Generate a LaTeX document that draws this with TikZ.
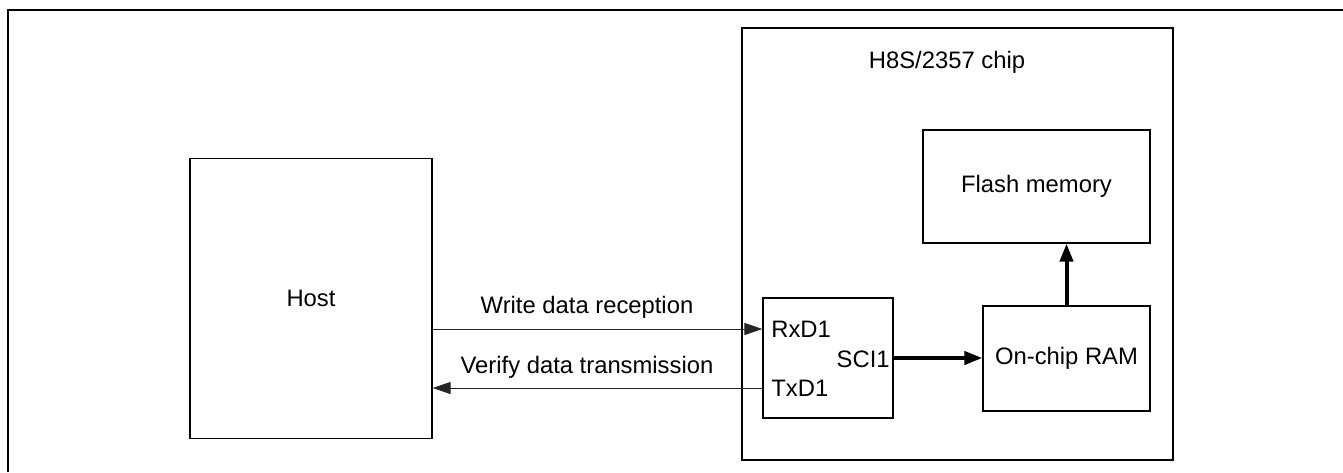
\documentclass[tikz,border=0pt]{standalone}
\usepackage{fontspec}
\setmainfont{Liberation Sans}
\usepackage{tikz}
\usetikzlibrary{positioning,arrows.meta,calc}
\tikzset{
  blk/.style={draw=black,line width=0.6pt,fill=white,inner sep=0pt,
    font=\fontsize{11.9}{14}\selectfont},
  lbl/.style={inner sep=0pt,font=\fontsize{11.9}{14}\selectfont},
  thinarrow/.style={-{Triangle[length=9pt,width=6pt]},line width=0.5pt,draw=black!85},
  thickarrow/.style={-{Triangle[length=9pt,width=6.5pt]},line width=2pt,draw=black}
}

\begin{document}
\begin{tikzpicture}[x=0.5pt,y=-0.5pt]
      \useasboundingbox (0,0) rectangle (1343,472);
      % outer frame (only top and left edges show)
      \draw[line width=0.7pt] (8,472) -- (8,10) -- (1343,10);
      \node[blk, minimum width=121pt, minimum height=140pt] (host) at (311,298.5) {Host};
      \node[blk, minimum width=215.5pt, minimum height=216pt] (chip) at (957.5,244) {};
      \node[lbl] (chiplbl) at (947,62) {H8S/2357 chip};
      \node[blk, minimum width=113.5pt, minimum height=56.5pt] (flash) at (1036.5,186.5) {Flash memory};
      \node[blk, minimum width=83.5pt, minimum height=52.5pt] (ram) at (1066.5,358.5) {On-chip RAM};
      \node[blk, minimum width=65pt, minimum height=60pt] (sci) at (828,358) {};
      \node[lbl, anchor=west] (rxd) at (771,329) {RxD1};
      \node[lbl, anchor=west] (txd) at (771,388) {TxD1};
      \node[lbl, anchor=east] (scilbl) at (890,359) {SCI1};
      % host <-> SCI1
      \draw[thinarrow] (host.east |- rxd.west) -- (sci.west |- rxd.west);
      \draw[thinarrow] (sci.west |- txd.west) -- (host.east |- txd.west);
      \node[lbl] (wlbl) at (587,307) {Write data reception};
      \node[lbl] (vlbl) at (587,367) {Verify data transmission};
      % data path inside the chip
      \draw[thickarrow] (sci.east |- 0,358) -- (ram.west |- 0,358);
      \draw[thickarrow] (ram.north) -- (ram.north |- flash.south);
    \end{tikzpicture}
\end{document}
